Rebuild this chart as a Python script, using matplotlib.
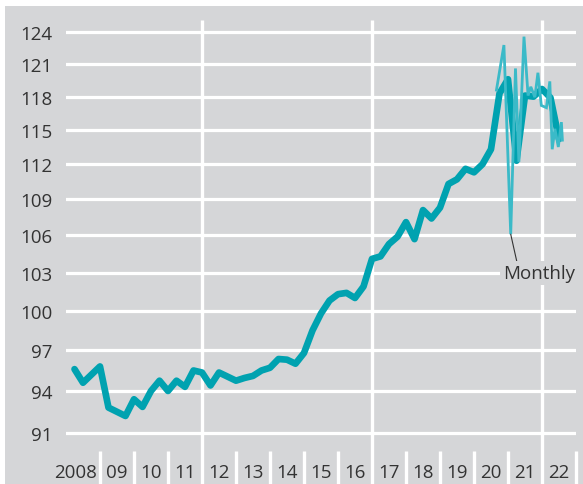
import matplotlib
matplotlib.use("Agg")
import matplotlib.pyplot as plt
import matplotlib.transforms as mtransforms
from matplotlib.patches import Rectangle
import numpy as np

plt.rcParams['font.family'] = ['Open Sans', 'DejaVu Sans']

# ---- data ----
quarter_t = [2008.25 + 0.25 * i for i in range(58)]
quarterly = [95.6, 94.6, 95.2, 95.8, 92.8, 92.5, 92.2, 93.4, 92.85, 94.0,
             94.75, 94.0, 94.75, 94.3, 95.5, 95.35, 94.4, 95.35, 95.05, 94.75,
             94.95, 95.1, 95.5, 95.7, 96.35, 96.3, 96.0, 96.8, 98.5, 99.8,
             100.8, 101.3, 101.4, 101.0, 101.9, 104.1, 104.3, 105.3, 105.9, 107.1,
             105.7, 108.1, 107.4, 108.3, 110.3, 110.7, 111.6, 111.3, 112.0, 113.3,
             118.3, 119.6, 112.3, 118.1, 118.0, 118.7, 117.9, 114.2]

monthly_t = [2020.66, 2020.88, 2021.08, 2021.22, 2021.32, 2021.47, 2021.59,
             2021.67, 2021.79, 2021.88, 2021.98, 2022.13, 2022.23, 2022.30,
             2022.38, 2022.48, 2022.57, 2022.60]
monthly = [118.6, 122.8, 106.1, 120.6, 112.2, 123.6, 118.1, 118.9, 117.95,
           120.2, 117.2, 117.0, 119.4, 113.3, 115.1, 113.5, 115.7, 114.1]

y_ticks = [91, 94, 97, 100, 103, 106, 109, 112, 115, 118, 121, 124]
year_labels = ["2008", "09", "10", "11", "12", "13", "14", "15", "16", "17",
               "18", "19", "20", "21", "22"]
years = list(range(2008, 2023))
major_years = [2012, 2017, 2022]

# ---- style ----
GREY = "#d5d6d8"
THICK = "#00a2b0"
THIN = "#3bbac8"
TXT = "#333333"

W, H = 583, 485
fig = plt.figure(figsize=(W / 100, H / 100), dpi=100)
fig.patch.set_facecolor("white")
fig.patches.append(Rectangle((5 / W, 0), 578 / W, 478 / H, transform=fig.transFigure,
                             facecolor=GREY, edgecolor="none", zorder=-10))

ax_l, ax_r, ax_t, ax_b = 66, 576, 21, 452
ax = fig.add_axes([ax_l / W, (H - ax_b) / H, (ax_r - ax_l) / W, (ax_b - ax_t) / H])
ax.set_facecolor("none")
ax.set_yscale("log")
ax.set_xlim(2008, 2023)
ax.set_ylim(89.74, 125.2)
for s in ax.spines.values():
    s.set_visible(False)

ax.set_yticks(y_ticks)
ax.set_yticklabels([str(v) for v in y_ticks])
ax.yaxis.set_minor_locator(matplotlib.ticker.NullLocator())
ax.tick_params(axis="y", length=0, pad=9.5, labelsize=13.5, labelcolor=TXT)
ax.set_xticks([])
ax.grid(axis="y", color="white", lw=2.3, zorder=0)
ax.set_axisbelow(True)

trans = mtransforms.blended_transform_factory(ax.transData, ax.transAxes)
ext = -(H - ax_b) / (ax_b - ax_t)
for yr in years[1:] + [2023]:
    if yr in major_years:
        ax.plot([yr, yr], [ext, 1], transform=trans, color="white", lw=2.4,
                clip_on=False, zorder=1, solid_capstyle="butt")
    else:
        ax.plot([yr, yr], [ext, 0], transform=trans, color="white", lw=2.4,
                clip_on=False, zorder=1, solid_capstyle="butt")

label_y = -(473 - ax_b) / (ax_b - ax_t)
for yr, lab in zip(years, year_labels):
    x = yr + 0.5 if yr != 2008 else 2008.27
    ax.text(x, label_y, lab, transform=trans, ha="center", va="center",
            fontsize=13.5, color=TXT)

ax.plot(quarter_t, quarterly, color=THICK, lw=4.8, zorder=3,
        solid_joinstyle="round", solid_capstyle="round")
ax.plot(monthly_t, monthly, color=THIN, lw=2.0, zorder=4,
        solid_joinstyle="miter")

i_min = int(np.argmin(monthly))
ax.annotate("Monthly", xy=(monthly_t[i_min], monthly[i_min]),
            xytext=(2021.91, 102.98), ha="center", va="center",
            fontsize=13.5, color=TXT, zorder=5,
            bbox=dict(boxstyle="square,pad=0.15", fc=GREY, ec="none"),
            arrowprops=dict(arrowstyle="-", color=TXT, lw=0.8,
                            shrinkA=0, shrinkB=0, relpos=(0.2, 1.0)))

fig.savefig("out.png", dpi=100, facecolor="white")
